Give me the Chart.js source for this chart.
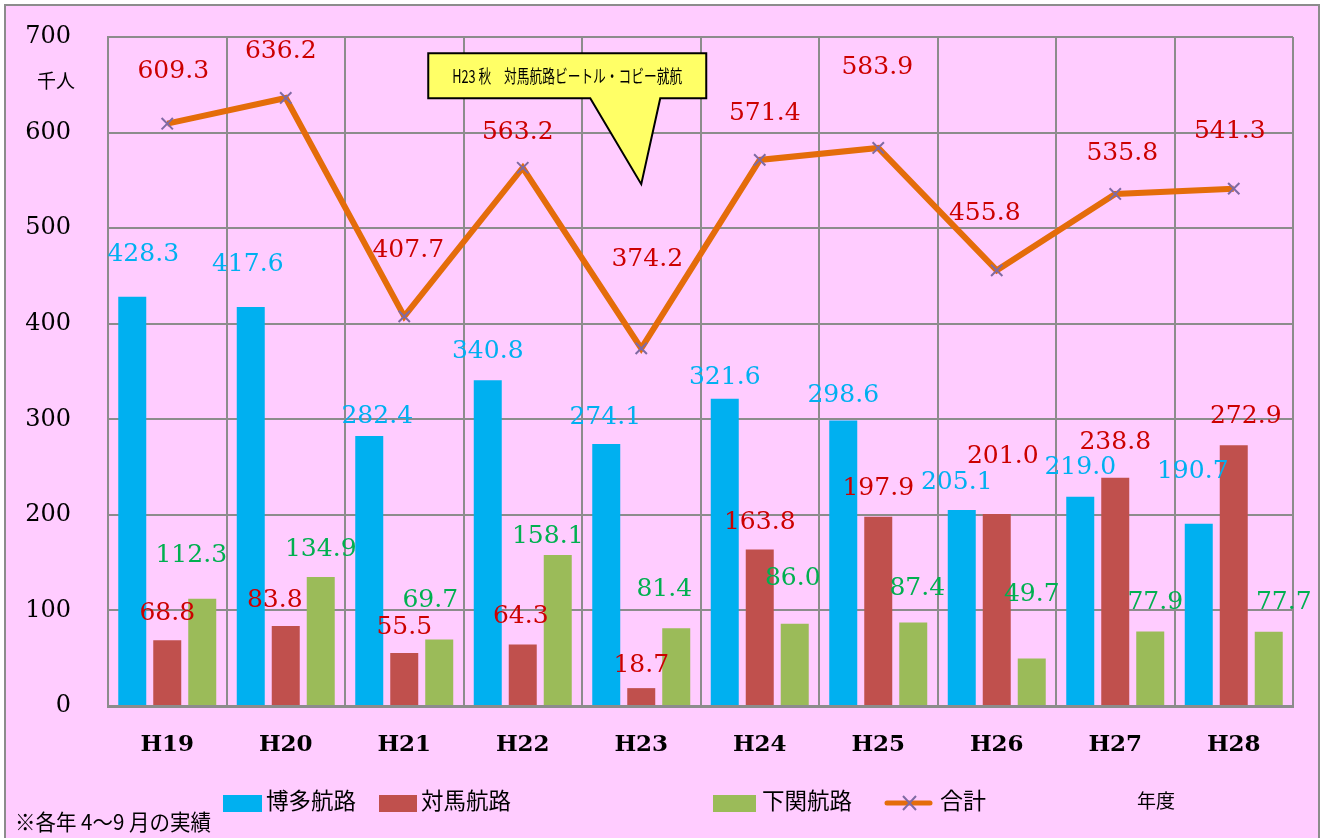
<!DOCTYPE html>
<html>
<head>
<meta charset="utf-8">
<script src="https://cdn.jsdelivr.net/npm/chart.js@4.4.1/dist/chart.umd.min.js"></script>
<style>
  html, body { margin: 0; padding: 0; background: #ffffff; }
  #wrap { width: 1322px; height: 838px; }
</style>
</head>
<body>
<div id="wrap"><canvas id="routeChart" width="1322" height="838"></canvas></div>
<script>
// 年度
const years = ['H19', 'H20', 'H21', 'H22', 'H23', 'H24', 'H25', 'H26', 'H27', 'H28'];
// 博多航路 / 対馬航路 / 下関航路 (千人)
const hakata = [428.3, 417.6, 282.4, 340.8, 274.1, 321.6, 298.6, 205.1, 219.0, 190.7];
const tsushima = [68.8, 83.8, 55.5, 64.3, 18.7, 163.8, 197.9, 201.0, 238.8, 272.9];
const shimonoseki = [112.3, 134.9, 69.7, 158.1, 81.4, 86.0, 87.4, 49.7, 77.9, 77.7];
// 合計
const totals = [609.3, 636.2, 407.7, 563.2, 374.2, 571.4, 583.9, 455.8, 535.8, 541.3];
const yTicks = [0, 100, 200, 300, 400, 500, 600, 700];

// callout: H23 index and the value its tip points at
const calloutIndex = 4;
const calloutTipValue = 546;
const calloutText = 'H23 秋\u3000対馬航路ビートル・コビー就航';

// data label nudges [dx, dy above mark] in px, as placed by hand in the original
const labelNudge = [
    [[11, 42], [-3, 42], [8, 20], [0, 29], [-1, 27], [0, 21], [0, 25], [-5, 27], [0, 29], [-6, 52]],
    [[0, 27], [-11, 25], [0, 25], [-2, 28], [0, 23], [0, 27], [0, 28], [6, 57], [0, 35], [12, 29]],
    [[-11, 43], [0, 28], [-9, 39], [-10, 18], [-12, 39], [-2, 45], [4, 34], [0, 64], [5, 29], [15, 29]],
    [[6, 52], [-5, 46], [4, 66], [-5, 35], [6, 89], [5, 46], [-1, 80], [-12, 57], [7, 40], [-4, 57]]
];
const labelColors = ['#00b0f0', '#cc0000', '#00b050', '#cc0000'];

const PINK = '#ffccff';
const GRID = '#8c8c8c';
const SERIF = '"DejaVu Serif", "Liberation Serif", serif';
const JP = '"Noto Sans CJK JP", sans-serif';

const backgroundPlugin = {
    id: 'pinkBackground',
    beforeDraw(chart) {
        const ctx = chart.ctx;
        ctx.save();
        ctx.fillStyle = '#ffffff';
        ctx.fillRect(0, 0, chart.width, chart.height);
        ctx.fillStyle = PINK;
        ctx.fillRect(5, 5, 1314, chart.height);
        ctx.strokeStyle = GRID;
        ctx.lineWidth = 2;
        ctx.strokeRect(5, 5, 1314, chart.height + 10);
        ctx.restore();
    }
};

const valueLabelPlugin = {
    id: 'valueLabels',
    afterDatasetsDraw(chart) {
        const ctx = chart.ctx;
        ctx.save();
        ctx.font = '25px ' + SERIF;
        ctx.textAlign = 'center';
        ctx.textBaseline = 'middle';
        chart.data.datasets.forEach((ds, di) => {
            const meta = chart.getDatasetMeta(di);
            meta.data.forEach((el, i) => {
                const nudge = labelNudge[di][i];
                ctx.fillStyle = labelColors[di];
                ctx.fillText(ds.data[i].toFixed(1), el.x + nudge[0], el.y - nudge[1]);
            });
        });
        ctx.restore();
    }
};

const annotationPlugin = {
    id: 'extras',
    afterDraw(chart) {
        const ctx = chart.ctx;
        const xs = chart.scales.x;
        const ys = chart.scales.y;
        ctx.save();

        // unit
        ctx.fillStyle = '#000';
        ctx.font = '19px ' + JP;
        ctx.textAlign = 'center';
        ctx.textBaseline = 'middle';
        ctx.fillText('千人', 56, 81);

        // callout
        const tipX = xs.getPixelForValue(calloutIndex);
        const tipY = ys.getPixelForValue(calloutTipValue);
        const L = tipX - 213, R = tipX + 65, T = tipY - 131, B = tipY - 86;
        ctx.beginPath();
        ctx.moveTo(L, T);
        ctx.lineTo(R, T);
        ctx.lineTo(R, B);
        ctx.lineTo(tipX + 19, B);
        ctx.lineTo(tipX, tipY);
        ctx.lineTo(tipX - 51, B);
        ctx.lineTo(L, B);
        ctx.closePath();
        ctx.fillStyle = '#ffff66';
        ctx.fill();
        ctx.strokeStyle = '#000';
        ctx.lineWidth = 2;
        ctx.stroke();
        ctx.fillStyle = '#000';
        ctx.font = '18px ' + JP;
        ctx.fillText(calloutText, (L + R) / 2, (T + B) / 2, 230);

        // legend
        const legendY = 803;
        ctx.font = '23px ' + JP;
        ctx.textAlign = 'left';
        const boxes = [
            { x: 223, w: 39, color: '#00b0f0', text: '博多航路', tx: 266 },
            { x: 379, w: 38, color: '#c0504d', text: '対馬航路', tx: 421 },
            { x: 713, w: 43, color: '#9bbb59', text: '下関航路', tx: 762 }
        ];
        boxes.forEach(b => {
            ctx.fillStyle = b.color;
            ctx.fillRect(b.x, legendY - 8, b.w, 17);
            ctx.fillStyle = '#000';
            ctx.fillText(b.text, b.tx, legendY - 3, 90);
        });
        ctx.strokeStyle = '#e46c0a';
        ctx.lineWidth = 5;
        ctx.lineCap = 'round';
        ctx.beginPath();
        ctx.moveTo(887, legendY);
        ctx.lineTo(930, legendY);
        ctx.stroke();
        ctx.strokeStyle = '#7f6aa3';
        ctx.lineWidth = 2;
        ctx.lineCap = 'butt';
        ctx.beginPath();
        ctx.moveTo(903, legendY - 7); ctx.lineTo(916, legendY + 7);
        ctx.moveTo(916, legendY - 7); ctx.lineTo(903, legendY + 7);
        ctx.stroke();
        ctx.fillStyle = '#000';
        ctx.fillText('合計', 940, legendY - 3);

        ctx.font = '19px ' + JP;
        ctx.fillText('年度', 1137, 801);

        ctx.font = '22px ' + JP;
        ctx.fillText('※各年 4〜9 月の実績', 15, 822, 196);
        ctx.restore();
    }
};

const chart = new Chart(document.getElementById('routeChart'), {
    data: {
        labels: years,
        datasets: [
            {
                type: 'bar',
                label: '博多航路',
                data: hakata,
                backgroundColor: '#00b0f0',
                categoryPercentage: 0.886,
                barPercentage: 0.8,
                order: 1
            },
            {
                type: 'bar',
                label: '対馬航路',
                data: tsushima,
                backgroundColor: '#c0504d',
                categoryPercentage: 0.886,
                barPercentage: 0.8,
                order: 1
            },
            {
                type: 'bar',
                label: '下関航路',
                data: shimonoseki,
                backgroundColor: '#9bbb59',
                categoryPercentage: 0.886,
                barPercentage: 0.8,
                order: 1
            },
            {
                type: 'line',
                label: '合計',
                data: totals,
                borderColor: '#e46c0a',
                borderWidth: 6,
                tension: 0,
                pointStyle: 'crossRot',
                pointRadius: 8,
                pointBorderColor: '#7f6aa3',
                pointBorderWidth: 2,
                order: 0
            }
        ]
    },
    options: {
        responsive: false,
        animation: false,
        layout: { autoPadding: false, padding: { left: 0, right: 29, top: 37, bottom: 0 } },
        plugins: {
            legend: { display: false },
            tooltip: { enabled: false }
        },
        scales: {
            x: {
                offset: true,
                grid: { offset: true, color: GRID, lineWidth: 2, drawTicks: false },
                border: { color: GRID, width: 3 },
                ticks: {
                    color: '#000',
                    padding: 25,
                    font: { family: SERIF, size: 23, weight: 'bold' }
                },
                afterFit(axis) {
                    axis.height = 132;
                    axis.paddingLeft = 0;
                    axis.paddingRight = 0;
                }
            },
            y: {
                min: 0,
                max: 700,
                grid: { color: GRID, lineWidth: 2, drawTicks: false },
                border: { color: GRID, width: 2 },
                afterBuildTicks(axis) { axis.ticks = yTicks.map(v => ({ value: v })); },
                ticks: {
                    color: '#000',
                    padding: 37,
                    font: { family: SERIF, size: 24 }
                },
                afterFit(axis) {
                    axis.width = 108;
                    axis.paddingTop = 0;
                    axis.paddingBottom = 0;
                }
            }
        }
    },
    plugins: [backgroundPlugin, valueLabelPlugin, annotationPlugin]
});
</script>
</body>
</html>
